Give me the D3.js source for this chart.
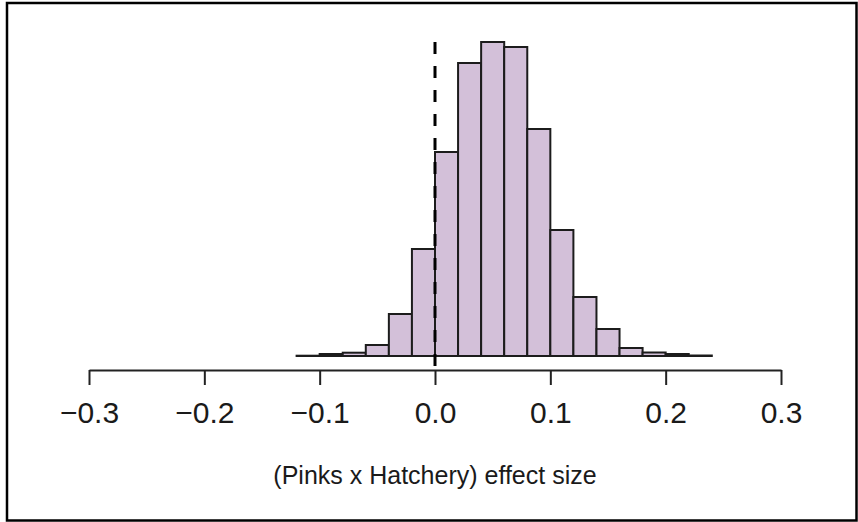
<!DOCTYPE html>
<html>
<head>
<meta charset="utf-8">
<script src="https://cdn.jsdelivr.net/npm/d3@7"></script>
<style>
  body { margin: 0; background: #fff; }
  svg { display: block; font-family: "Liberation Sans", Arial, sans-serif; }
</style>
</head>
<body>
<div class="chart"></div>
<script>
// histogram bins (left edges) and heights
const binStarts = [-0.12, -0.10, -0.08, -0.06, -0.04, -0.02, 0.00, 0.02, 0.04,
                   0.06, 0.08, 0.10, 0.12, 0.14, 0.16, 0.18, 0.20, 0.22];
const binWidth = 0.02;
const counts = [3, 20, 33, 110, 420, 1070, 2040, 2930, 3140,
                3090, 2270, 1260, 590, 270, 80, 35, 20, 5];
const tickValues = [-0.3, -0.2, -0.1, 0.0, 0.1, 0.2, 0.3];
const refLine = 0;
const xLabel = "(Pinks x Hatchery) effect size";

const width = 858;
const height = 522;

const svg = d3.select(".chart")
  .append("svg")
    .attr("width", width)
    .attr("height", height);

// frame
svg.append("rect")
  .attr("x", 7)
  .attr("y", 3)
  .attr("width", 849.5)
  .attr("height", 517.5)
  .style("fill", "#fff")
  .style("stroke", "#000")
  .style("stroke-width", 2.5);

//scales
const xScale = d3.scaleLinear()
  .domain([-0.3, 0.3])
  .range([89, 781]);

const yScale = d3.scaleLinear()
  .domain([0, d3.max(counts)])
  .range([356, 42]);

const bins = binStarts.map((b, i) => ({ x0: b, x1: b + binWidth, n: counts[i] }));

//bars
svg.append("g")
  .selectAll("rect")
  .data(bins)
  .enter().append("rect")
    .attr("x", d => xScale(d.x0))
    .attr("y", d => yScale(d.n))
    .attr("width", d => xScale(d.x1) - xScale(d.x0))
    .attr("height", d => yScale(0) - yScale(d.n))
    .style("fill", "#D3C0D9")
    .style("stroke", "#1c1c1c")
    .style("stroke-width", 2);

//x axis
const xAxisGenerator = d3.axisBottom(xScale)
  .tickValues(tickValues)
  .tickSize(15)
  .tickSizeOuter(0)
  .tickPadding(17)
  .tickFormat(d3.format(".1f"));

const xAxis = svg.append("g")
  .attr("transform", "translate(0,370)")
  .call(xAxisGenerator);
xAxis.select(".domain")
  .style("stroke", "#222")
  .style("stroke-width", 2);
xAxis.selectAll(".tick line")
  .style("stroke", "#222")
  .style("stroke-width", 2);
xAxis.selectAll(".tick text")
  .style("font-family", "'Liberation Sans', Arial, sans-serif")
  .style("font-size", "30px")
  .style("fill", "#1a1a1a");

//dashed reference line at zero
svg.append("line")
  .attr("x1", xScale(refLine))
  .attr("x2", xScale(refLine))
  .attr("y1", 42)
  .attr("y2", 370)
  .style("stroke", "#000")
  .style("stroke-width", 3)
  .style("stroke-dasharray", "12,12");

//axis title
svg.append("text")
  .attr("x", xScale(0))
  .attr("y", 484)
  .attr("text-anchor", "middle")
  .style("font-size", "25px")
  .style("fill", "#1a1a1a")
  .text(xLabel);
</script>
</body>
</html>
